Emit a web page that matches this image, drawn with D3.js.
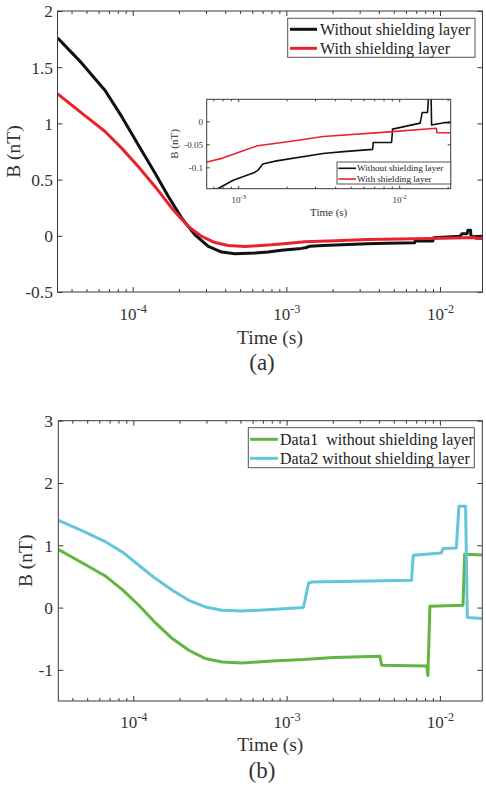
<!DOCTYPE html>
<html><head><meta charset="utf-8">
<script src="https://cdn.jsdelivr.net/npm/d3@7"></script>
<style>body{margin:0;background:#fff}svg{display:block}svg text{font-family:"Liberation Serif","Times New Roman",serif}</style>
</head><body>
<svg id="c" width="486" height="787"></svg>
<script>
// ---------- DATA ----------
// Panel (a): without shielding layer (black)
const timeA_without = [3.25e-5, 4.66e-5, 6.61e-5, 8.47e-5, 1.086e-4, 1.396e-4, 1.706e-4, 2.084e-4, 2.541e-4, 3.105e-4, 3.793e-4, 4.634e-4, 6.252e-4, 7.6e-4, 9.31e-4, 1.25e-3, 1.33e-3, 1.42e-3, 1.73e-3, 3.37e-3, 4.5e-3, 6.84e-3, 6.9e-3, 8.97e-3, 9.1e-3, 1.35e-2, 1.39e-2, 1.5e-2, 1.52e-2, 1.58e-2, 1.59e-2, 1.9e-2, 2.1e-2];
const bA_without    = [1.759, 1.536, 1.293, 1.062, 0.81, 0.558, 0.35, 0.157, 0.009, -0.095, -0.145, -0.16, -0.154, -0.145, -0.128, -0.112, -0.106, -0.093, -0.086, -0.070, -0.066, -0.061, -0.046, -0.046, -0.017, -0.004, 0.019, 0.019, 0.05, 0.05, -0.008, -0.003, -0.003];
// Panel (a): with shielding layer (red)
const timeA_with = [3.25e-5, 4.66e-5, 6.61e-5, 8.47e-5, 1.086e-4, 1.396e-4, 1.795e-4, 2.301e-4, 2.812e-4, 3.428e-4, 4.188e-4, 5.383e-4, 8.017e-4, 1.0e-3, 1.321e-3, 2.09e-3, 3.37e-3, 8.7e-3, 1.7e-2, 1.72e-2, 2.1e-2];
const bA_with    = [1.263, 1.091, 0.928, 0.78, 0.617, 0.439, 0.246, 0.083, -0.006, -0.06, -0.086, -0.095, -0.08, -0.068, -0.053, -0.044, -0.033, -0.023, -0.015, -0.025, -0.025];
// Panel (b): Data1 (green)
const timeB_data1 = [3.25e-5, 4.66e-5, 6.61e-5, 8.47e-5, 1.086e-4, 1.396e-4, 1.795e-4, 2.301e-4, 2.951e-4, 3.793e-4, 5.117e-4, 8.017e-4, 1.288e-3, 2.02e-3, 4.06e-3, 4.17e-3, 8.2e-3, 8.35e-3, 8.6e-3, 1.415e-2, 1.45e-2, 2.0e-2];
const bB_data1    = [0.931, 0.716, 0.502, 0.289, 0.037, -0.247, -0.498, -0.685, -0.819, -0.873, -0.889, -0.857, -0.835, -0.80, -0.78, -0.926, -0.937, -1.09, 0.02, 0.037, 0.855, 0.84];
// Panel (b): Data2 (cyan)
const timeB_data2 = [3.25e-5, 4.66e-5, 6.61e-5, 8.47e-5, 1.086e-4, 1.396e-4, 1.795e-4, 2.301e-4, 2.951e-4, 3.793e-4, 5.117e-4, 8.017e-4, 1.288e-3, 1.39e-3, 1.46e-3, 6.53e-3, 6.7e-3, 1.02e-2, 1.05e-2, 1.28e-2, 1.33e-2, 1.47e-2, 1.51e-2, 2.0e-2];
const bB_data2    = [1.401, 1.23, 1.053, 0.893, 0.679, 0.465, 0.278, 0.117, 0.01, -0.043, -0.055, -0.032, 0.0, 0.395, 0.41, 0.438, 0.84, 0.876, 0.947, 0.957, 1.626, 1.626, -0.16, -0.177];

const legendA = ["Without shielding layer", "With shielding layer"];
const legendB = ["Data1  without shielding layer", "Data2 without shielding layer"];
const yTicksA = [-0.5, 0, 0.5, 1, 1.5, 2];
const yTicksB = [-1, 0, 1, 2, 3];
const yTicksInset = [-0.1, -0.05, 0];
const xMajor = [1e-4, 1e-3, 1e-2];
const xMajorInset = [1e-3, 1e-2];

// ---------- STYLE ----------
const FONT = "Liberation Serif, Times New Roman, serif";
const AX = "#3a3a3a", TXT = "#333";
const C_BLACK = "#111111", C_RED = "#e8232b", C_GREEN = "#62b540", C_CYAN = "#62c6dc";

const svg = d3.select("#c");
svg.append("rect").attr("width",486).attr("height",787).attr("fill","#fff");

function minorTicks(domain){
  const out=[];
  for(let e=-6;e<=0;e++) for(let k=2;k<=9;k++){const v=k*Math.pow(10,e); if(v>domain[0]&&v<domain[1]) out.push(v);}
  return out;
}

function panel(o){
  const g = svg.append("g");
  const x = d3.scaleLog().domain(o.xd).range([o.x0,o.x1]);
  const y = d3.scaleLinear().domain(o.yd).range([o.y1,o.y0]);
  const id = "clip"+o.name;
  g.append("clipPath").attr("id",id).append("rect")
    .attr("x",o.x0).attr("y",o.y0).attr("width",o.x1-o.x0).attr("height",o.y1-o.y0);
  g.append("rect").attr("x",o.x0).attr("y",o.y0).attr("width",o.x1-o.x0).attr("height",o.y1-o.y0).attr("fill","#fff");

  const line = d3.line().x(d=>x(d[0])).y(d=>y(d[1]));
  o.series.forEach(s=>{
    const pts = s.t.map((t,i)=>[t,s.v[i]]);
    g.append("path").attr("d",line(pts)).attr("fill","none").attr("stroke",s.c)
      .attr("stroke-width",o.lw).attr("stroke-linejoin","round").attr("clip-path",`url(#${id})`);
  });

  const minors = minorTicks(o.xd);
  const bx = g.append("g").attr("transform",`translate(0,${o.y1})`)
    .call(d3.axisBottom(x).tickValues(o.xMajor).tickSizeInner(-o.tl).tickSizeOuter(0));
  const bxm = g.append("g").attr("transform",`translate(0,${o.y1})`)
    .call(d3.axisBottom(x).tickValues(minors).tickSizeInner(-o.tlm).tickSizeOuter(0).tickFormat(""));
  const tx = g.append("g").attr("transform",`translate(0,${o.y0})`)
    .call(d3.axisTop(x).tickValues(o.xMajor).tickSizeInner(-o.tl).tickSizeOuter(0).tickFormat(""));
  const txm = g.append("g").attr("transform",`translate(0,${o.y0})`)
    .call(d3.axisTop(x).tickValues(minors).tickSizeInner(-o.tlm).tickSizeOuter(0).tickFormat(""));
  const ly = g.append("g").attr("transform",`translate(${o.x0},0)`)
    .call(d3.axisLeft(y).tickValues(o.yTicks).tickSizeInner(-o.tl).tickSizeOuter(0).tickFormat(d=>String(d)));
  const ry = g.append("g").attr("transform",`translate(${o.x1},0)`)
    .call(d3.axisRight(y).tickValues(o.yTicks).tickSizeInner(-o.tl).tickSizeOuter(0).tickFormat(""));
  [bx,bxm,tx,txm,ly,ry].forEach(a=>{
    a.attr("font-family",FONT);
    a.select(".domain").remove();
    a.selectAll("line").attr("stroke",AX).attr("stroke-width",1);
    a.selectAll("text").attr("fill",TXT).attr("font-family",FONT);
  });
  bx.selectAll("text").each(function(d){
    const t=d3.select(this);
    t.text(null).attr("dy",null).attr("y",o.xlabY).attr("font-size",o.fsx).attr("text-anchor","middle");
    t.append("tspan").text("10");
    t.append("tspan").attr("dy",-o.fsx*0.42).attr("font-size",o.fsx*0.72).text(String(Math.round(Math.log10(d))));
  });
  ly.selectAll("text").attr("font-size",o.fsy).attr("x",o.ylabX-o.x0).attr("dy","0.34em");

  g.append("rect").attr("x",o.x0).attr("y",o.y0).attr("width",o.x1-o.x0).attr("height",o.y1-o.y0)
    .attr("fill","none").attr("stroke",AX).attr("stroke-width",1);

  g.append("text").attr("x",(o.x0+o.x1)/2).attr("y",o.xtY).attr("text-anchor","middle")
    .attr("font-family",FONT).attr("font-size",o.fst).attr("fill",TXT).text("Time (s)");
  g.append("text").attr("transform",`translate(${o.ytX},${(o.y0+o.y1)/2}) rotate(-90)`).attr("text-anchor","middle")
    .attr("font-family",FONT).attr("font-size",o.fst).attr("fill",TXT).text("B (nT)");

  const L=o.legend;
  g.append("rect").attr("x",L.x0).attr("y",L.y0).attr("width",L.x1-L.x0).attr("height",L.y1-L.y0)
    .attr("fill","#fff").attr("stroke","#555").attr("stroke-width",1);
  o.series.forEach((s,i)=>{
    const yy=L.rows[i];
    g.append("line").attr("x1",L.lx0).attr("x2",L.lx1).attr("y1",yy).attr("y2",yy)
      .attr("stroke",s.c).attr("stroke-width",L.lw);
    g.append("text").attr("x",L.tx).attr("y",yy).attr("dy","0.33em").attr("font-family",FONT)
      .attr("font-size",L.fs).attr("fill","#222").attr("xml:space","preserve").style("white-space","pre").text(L.labels[i]);
  });
  return g;
}

panel({
  name:"a", x0:57.5,x1:482.5,y0:11,y1:292, xd:[3.24e-5,0.0189], yd:[-0.5,2],
  series:[{t:timeA_without,v:bA_without,c:C_BLACK},{t:timeA_with,v:bA_with,c:C_RED}],
  lw:3, tl:5, tlm:3, xMajor:xMajor, yTicks:yTicksA,
  fsx:17, fsy:17.5, fst:19.5, xlabY:320-292, ylabX:53, xtY:344, ytX:20,
  legend:{x0:287.7,x1:475,y0:18.3,y1:57.3,rows:[29.3,48.3],lx0:290,lx1:317,tx:320,fs:16,lw:3,labels:legendA}
});
panel({
  name:"inset", x0:206.7,x1:450.7,y0:99.3,y1:188.7, xd:[6.37e-4,0.0209], yd:[-0.1465,0.0478],
  series:[{t:timeA_without,v:bA_without,c:C_BLACK},{t:timeA_with,v:bA_with,c:C_RED}],
  lw:1.6, tl:3, tlm:2, xMajor:xMajorInset, yTicks:yTicksInset,
  fsx:9, fsy:9, fst:11, xlabY:203-188.7, ylabX:203, xtY:216, ytX:178,
  legend:{x0:337,x1:450.7,y0:162,y1:184,rows:[168.3,179],lx0:338.3,lx1:356,tx:357,fs:9.2,lw:1.6,labels:legendA}
});
panel({
  name:"b", x0:58.3,x1:482.3,y0:420.7,y1:701, xd:[3.24e-5,0.0189], yd:[-1.5,3],
  series:[{t:timeB_data1,v:bB_data1,c:C_GREEN},{t:timeB_data2,v:bB_data2,c:C_CYAN}],
  lw:3, tl:5, tlm:3, xMajor:xMajor, yTicks:yTicksB,
  fsx:17, fsy:17.5, fst:19.5, xlabY:728-701, ylabX:53, xtY:751, ytX:32,
  legend:{x0:248.3,x1:474.3,y0:427.7,y1:467.7,rows:[439.3,458.3],lx0:250,lx1:278,tx:280,fs:16,lw:3,labels:legendB}
});

svg.append("text").attr("x",262).attr("y",370).attr("text-anchor","middle").attr("font-family",FONT)
  .attr("font-size",23).attr("fill",TXT).text("(a)");
svg.append("text").attr("x",262).attr("y",778).attr("text-anchor","middle").attr("font-family",FONT)
  .attr("font-size",23).attr("fill",TXT).text("(b)");
</script>
</body></html>
